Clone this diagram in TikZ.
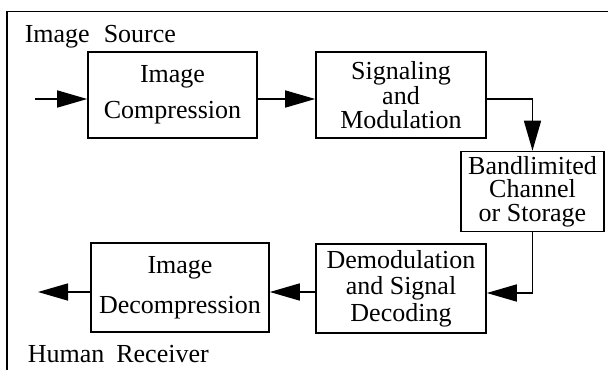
\documentclass[tikz,border=0pt]{standalone}
\usepackage{fontspec}
\setmainfont{Liberation Serif}
\usetikzlibrary{arrows.meta}
\begin{document}
\begin{tikzpicture}[x=1pt,y=-1pt, line width=1.6pt,
  box/.style={draw, align=center, inner sep=0pt},
  lbl/.style={anchor=base west, inner sep=0pt, font=\fontsize{26}{28}\selectfont},
  arr/.style={-{Triangle[length=30pt,width=17pt]}}]
\useasboundingbox (0,0) rectangle (608,370);
% frame
\draw (608,11.5) -- (7,11.5) -- (7,370);
\node[lbl] (src) at (24,42) {Image\hspace{14pt}Source};
\node[lbl] (rcv) at (27,362) {Human\hspace{12pt}Receiver};
% boxes
\node[box, minimum width=169pt, minimum height=86pt, font=\fontsize{26}{36}\selectfont] (c) at (172.5,95) {Image\\Compression};
\node[box, minimum width=170pt, minimum height=86pt, font=\fontsize{26}{23.6}\selectfont] (s) at (401,95) {Signaling\\and\\Modulation};
\node[box, minimum width=143pt, minimum height=80pt, font=\fontsize{26}{23.6}\selectfont] (t) at (532.5,191.5) {Bandlimited\\Channel\\or Storage};
\node[box, minimum width=170pt, minimum height=89pt, font=\fontsize{26}{26.5}\selectfont] (d) at (401,288.5) {Demodulation\\and Signal\\Decoding};
\node[box, minimum width=178pt, minimum height=89pt, font=\fontsize{26}{40}\selectfont] (dc) at (180,287.5) {Image\\Decompression};
% connectors
\coordinate (in) at (35,99);
\coordinate (out) at (38,292);
\draw[arr] (in) -- (c.west |- in);
\draw[arr] (c.east |- in) -- (s.west |- in);
\draw[arr] (s.east |- in) -| (t.north);
\draw[arr] (t.south) |- (d.east |- 0,293);
\draw[arr] (d.west |- out) -- (dc.east |- out);
\draw[arr] (dc.west |- out) -- (out);
\end{tikzpicture}
\end{document}
